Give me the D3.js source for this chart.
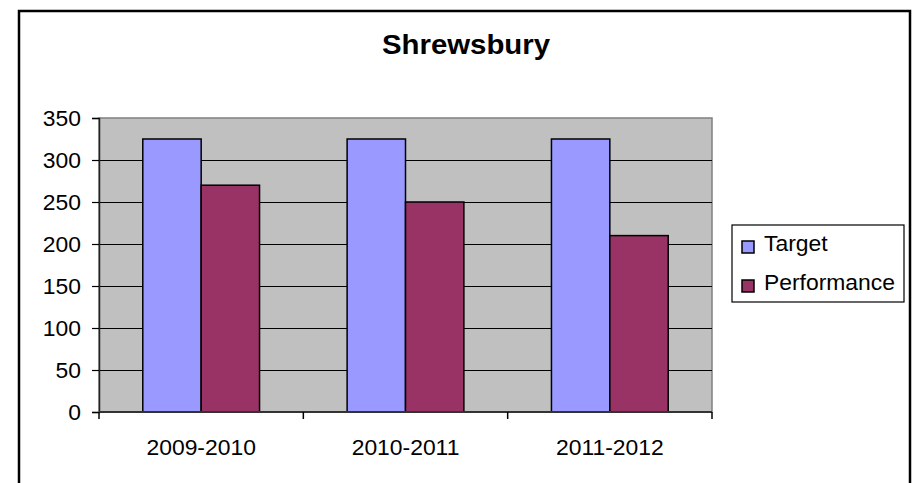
<!DOCTYPE html>
<html>
<head>
<meta charset="utf-8">
<script src="https://cdn.jsdelivr.net/npm/d3@7"></script>
<style>
  html, body { margin: 0; padding: 0; background: #fff; }
  svg { display: block; font-family: "Liberation Sans", Arial, sans-serif; }
</style>
</head>
<body>
<svg id="chart" width="914" height="483"></svg>
<script>
// Chart data
const categories = ["2009-2010", "2010-2011", "2011-2012"];
const seriesNames = ["Target", "Performance"];
const targetValues = [325, 325, 325];
const performanceValues = [270, 250, 210];
const yTicks = [0, 50, 100, 150, 200, 250, 300, 350];
const chartTitle = "Shrewsbury";

const seriesColors = ["#9999FF", "#993366"];
const seriesValues = [targetValues, performanceValues];

const svg = d3.select("#chart");

// Text helper: places text with a slight horizontal stretch
function stretchedText(sel, x, y, txt, anchor, size, weight, sx) {
  return sel.append("text")
    .attr("transform", `translate(${x},${y}) scale(${sx || 1.04},1)`)
    .attr("text-anchor", anchor)
    .attr("font-size", size)
    .attr("font-weight", weight || "normal")
    .attr("fill", "#000")
    .text(txt);
}

// Outer frame
svg.append("rect")
  .attr("x", 19).attr("y", 11)
  .attr("width", 891).attr("height", 500)
  .attr("fill", "#fff")
  .attr("stroke", "#000").attr("stroke-width", 2.5);

// Plot area
const plot = { left: 99, right: 712, top: 118, bottom: 412 };

const x = d3.scaleBand().domain(categories).range([plot.left, plot.right]).padding(0);
const bw = x.bandwidth();
const barW = bw / 3.5;
const xs = d3.scaleBand().domain(seriesNames)
  .range([barW * 0.75, barW * 2.75]).padding(0);
const y = d3.scaleLinear().domain([0, 350]).range([plot.bottom, plot.top]);

svg.append("rect")
  .attr("x", plot.left).attr("y", plot.top)
  .attr("width", plot.right - plot.left).attr("height", plot.bottom - plot.top)
  .attr("fill", "#C0C0C0")
  .attr("stroke", "#808080").attr("stroke-width", 1.5);

// Gridlines
svg.append("g").selectAll("line")
  .data(yTicks.filter(d => d > 0 && d < 350))
  .join("line")
  .attr("x1", plot.left).attr("x2", plot.right)
  .attr("y1", d => Math.round(y(d)) + 0.5).attr("y2", d => Math.round(y(d)) + 0.5)
  .attr("stroke", "#000").attr("stroke-width", 1.2);

// Bars
categories.forEach((c, i) => {
  seriesNames.forEach((s, j) => {
    const v = seriesValues[j][i];
    svg.append("rect")
      .attr("x", x(c) + xs(s))
      .attr("y", y(v))
      .attr("width", xs.bandwidth())
      .attr("height", y(0) - y(v))
      .attr("fill", seriesColors[j])
      .attr("stroke", "#000").attr("stroke-width", 1.5);
  });
});

// Y axis
const yAxis = d3.axisLeft(y).tickValues(yTicks).tickSize(7).tickFormat("");
const gy = svg.append("g").attr("transform", `translate(${plot.left},0)`).call(yAxis);
gy.select(".domain").attr("stroke", "#222").attr("stroke-width", 1.5);
gy.selectAll(".tick line").attr("stroke", "#000").attr("stroke-width", 1.2);
yTicks.forEach(t => {
  stretchedText(svg, 81, y(t) + 8, String(t), "end", 22);
});

// X axis
const gx = svg.append("g").attr("transform", `translate(0,${plot.bottom})`);
gx.append("line")
  .attr("x1", plot.left).attr("x2", plot.right)
  .attr("stroke", "#333").attr("stroke-width", 2);
const boundaries = categories.map(c => x(c)).concat([plot.right]);
gx.selectAll("line.tk").data(boundaries).join("line")
  .attr("class", "tk")
  .attr("x1", d => d).attr("x2", d => d)
  .attr("y1", 0).attr("y2", 7)
  .attr("stroke", "#000").attr("stroke-width", 1.5);
categories.forEach(c => {
  stretchedText(svg, x(c) + bw / 2, 455, c, "middle", 22);
});

// Title
stretchedText(svg, 466, 54, chartTitle, "middle", 28, "bold", 1.05);

// Legend
const lg = svg.append("g");
lg.append("rect")
  .attr("x", 732).attr("y", 225).attr("width", 172).attr("height", 77)
  .attr("fill", "#fff").attr("stroke", "#000").attr("stroke-width", 1.2);
const legendRows = [251, 290];
seriesNames.forEach((s, j) => {
  lg.append("rect")
    .attr("x", 742).attr("y", legendRows[j] - 10)
    .attr("width", 12).attr("height", 12)
    .attr("fill", seriesColors[j])
    .attr("stroke", "#000").attr("stroke-width", 1.5);
  stretchedText(lg, 764, legendRows[j], s, "start", 22);
});
</script>
</body>
</html>
